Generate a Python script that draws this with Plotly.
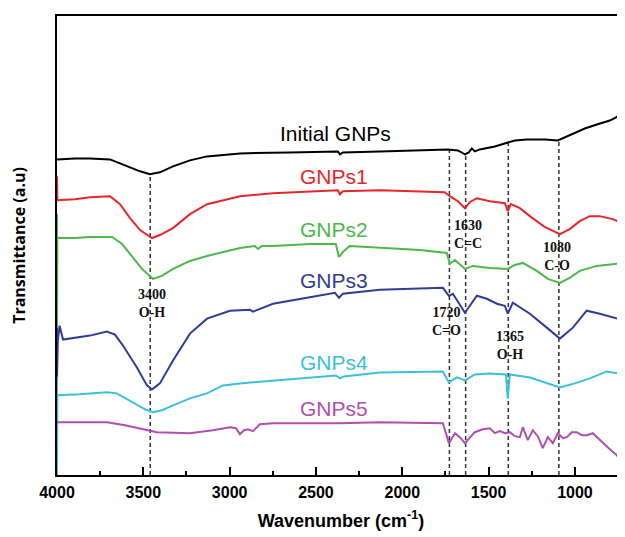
import numpy as np
import plotly.graph_objects as go

# ---------------- data (wavenumber cm-1, transmittance a.u.) ----------------
initial_x = [4000, 3896, 3809, 3693, 3606, 3519, 3462, 3404, 3328, 3230, 3131, 2940, 2651, 2373, 2361, 2344,
             2130, 1898, 1736, 1678, 1637, 1615, 1597, 1580, 1551, 1464, 1389, 1348, 1279, 1174, 1099, 1059,
             1012, 943, 873, 798, 752, 712]
initial_y = [317, 318, 318, 317, 311, 305, 302, 304, 310, 316, 320, 323, 324, 325, 322, 324,
             325, 326, 327, 326, 322, 324, 328, 325, 327, 330, 334, 336, 337, 337, 336, 339,
             343, 348, 352, 356, 360, 363]

g1_x = [4000, 3998, 3896, 3809, 3693, 3635, 3577, 3519, 3450, 3404, 3328, 3230, 3131, 2940, 2749, 2535, 2373,
        2361, 2344, 2130, 1898, 1754, 1725, 1678, 1637, 1609, 1568, 1493, 1406, 1389, 1371, 1319, 1261,
        1174, 1087, 1030, 972, 914, 856, 781, 712]
g1_y = [300, 276, 277, 279, 280, 272, 258, 246, 238, 241, 248, 262, 272, 280, 283, 285, 286,
        282, 285, 286, 285, 284, 280, 275, 268, 274, 278, 275, 273, 265, 272, 268, 260,
        249, 242, 247, 255, 260, 260, 257, 252]

g2_x = [4000, 4000, 3998, 3896, 3809, 3681, 3623, 3577, 3508, 3444, 3392, 3328, 3230, 3131, 2940, 2854, 2836,
        2813, 2749, 2535, 2385, 2367, 2356, 2338, 2304, 2130, 1898, 1742, 1725, 1695, 1667, 1637, 1591,
        1493, 1389, 1348, 1302, 1221, 1157, 1087, 1030, 972, 873, 712]
g2_y = [262, 148, 238, 238, 239, 239, 232, 222, 207, 197, 200, 207, 215, 220, 228, 230, 227,
        230, 230, 232, 232, 219, 221, 225, 230, 228, 226, 223, 212, 216, 212, 207, 210,
        208, 207, 211, 213, 205, 197, 193, 198, 205, 210, 213]

g3_x = [4000, 4000, 3995, 3985, 3965, 3809, 3711, 3664, 3618, 3537, 3479, 3450, 3404, 3328, 3230, 3131, 2998,
        2883, 2865, 2825, 2749, 2552, 2390, 2367, 2344, 2130, 1765, 1730, 1707, 1637, 1568, 1510, 1452,
        1406, 1389, 1360, 1261, 1163, 1087, 1012, 932, 856, 712]
g3_y = [148, 98, 135, 150, 136, 140, 144, 141, 130, 108, 90, 86, 92, 115, 142, 157, 165,
        166, 164, 167, 172, 178, 183, 178, 182, 186, 188, 180, 182, 163, 180, 177, 172,
        170, 162, 173, 162, 148, 137, 148, 165, 162, 155]

g4_x = [4000, 4000, 3998, 3867, 3711, 3653, 3560, 3490, 3444, 3392, 3328, 3230, 3131, 3039, 2940, 2749, 2535,
        2385, 2361, 2338, 2130, 1765, 1730, 1684, 1637, 1580, 1493, 1400, 1389, 1377, 1261, 1174, 1087,
        1001, 914, 816, 712]
g4_y = [98, 0, 80, 81, 83, 82, 73, 66, 63, 65, 70, 77, 82, 90, 92, 95, 98,
        100, 97, 99, 103, 104, 93, 98, 95, 101, 102, 101, 77, 101, 98, 93, 88,
        92, 97, 104, 101]

g5_x = [4000, 3711, 3606, 3519, 3421, 3230, 3097, 2998, 2964, 2940, 2917, 2894, 2865, 2825, 2749, 2361, 2130,
        1765, 1730, 1695, 1667, 1637, 1580, 1534, 1493, 1464, 1435, 1406, 1377, 1348, 1319, 1302, 1273,
        1244, 1215, 1186, 1157, 1128, 1099, 1070, 1047, 1018, 989, 960, 932, 897, 856, 816, 787, 758,
        735, 712]
g5_y = [53, 53, 50, 47, 43, 42, 45, 48, 47, 41, 45, 46, 44, 51, 52, 52, 53,
        52, 32, 42, 38, 32, 43, 46, 47, 42, 44, 42, 43, 39, 38, 48, 35,
        45, 39, 27, 38, 32, 42, 37, 38, 43, 43, 40, 40, 42, 35, 28, 24, 20,
        13, 10]

series_names = ["Initial GNPs", "GNPs1", "GNPs2", "GNPs3", "GNPs4", "GNPs5"]
series_colors = ["#000000", "#e8262a", "#4cb849", "#2f3c98", "#3bc0dc", "#b04fb0"]
label_x = [2385, 2395, 2395, 2395, 2395, 2395]
label_y = [343, 300, 247, 195, 113, 67]

peak_positions = [3460, 1727, 1633, 1386, 1093]
peak_labels = ["3400<br>O-H", "1630<br>C=C", "1080<br>C-O", "1720<br>C=O", "1365<br>O-H"]
peak_label_x = [3450, 1620, 1105, 1742, 1377]
peak_label_y = [172, 242, 219, 154, 130]

x_ticks = [4000, 3500, 3000, 2500, 2000, 1500, 1000]

# ---------------- figure ----------------
xs = [initial_x, g1_x, g2_x, g3_x, g4_x, g5_x]
ys = [initial_y, g1_y, g2_y, g3_y, g4_y, g5_y]

fig = go.Figure()
for name, x, y, c in zip(series_names, xs, ys, series_colors):
    fig.add_trace(go.Scatter(x=x, y=y, mode="lines", name=name,
                             line=dict(color=c, width=2), showlegend=False))

bx = np.array(initial_x[::-1], dtype=float)
by = np.array(initial_y[::-1], dtype=float)
for p in peak_positions:
    top = float(np.interp(p, bx, by))
    fig.add_shape(type="line", x0=p, x1=p, y0=0, y1=top, xref="x", yref="y",
                  line=dict(color="#333333", width=1.5, dash="4px,3px"), layer="below")

for name, c, lx, ly in zip(series_names, series_colors, label_x, label_y):
    fig.add_annotation(x=lx, y=ly, text=name, showarrow=False,
                       font=dict(family="Liberation Sans, Arial", size=21, color=c))

for t, lx, ly in zip(peak_labels, peak_label_x, peak_label_y):
    fig.add_annotation(x=lx, y=ly, text="<b>" + t + "</b>", showarrow=False,
                       font=dict(family="Liberation Serif, Times New Roman", size=14, color="#111111"))

fig.update_layout(
    width=625, height=537,
    margin=dict(l=49, r=8, t=6, b=70),
    paper_bgcolor="white", plot_bgcolor="white",
    xaxis=dict(range=[4000, 710], autorange=False, tickvals=x_ticks,
               ticktext=[str(v) for v in x_ticks],
               ticks="inside", ticklen=8, tickwidth=2, tickcolor="black", ticklabelstandoff=2,
               minor=dict(ticks="inside", ticklen=4, tickwidth=2, dtick=250, tickcolor="black"),
               showline=True, linewidth=2, linecolor="black", mirror=True,
               showgrid=False, zeroline=False,
               tickfont=dict(family="Liberation Sans, Arial", size=16, color="black", weight="bold"),
               title=dict(text="<b>Wavenumber (cm<sup>-1</sup>)</b>", standoff=14,
                          font=dict(family="Liberation Sans, Arial", size=18, color="black"))),
    yaxis=dict(range=[0, 461], autorange=False, showticklabels=False, ticks="",
               showline=True, linewidth=2, linecolor="black", showgrid=False, zeroline=False,
               title=dict(text="<b>Transmittance (a.u)</b>", standoff=25,
                          font=dict(family="Open Sans, Liberation Sans", size=16, color="black"))),
)

fig.write_html("out.html")
